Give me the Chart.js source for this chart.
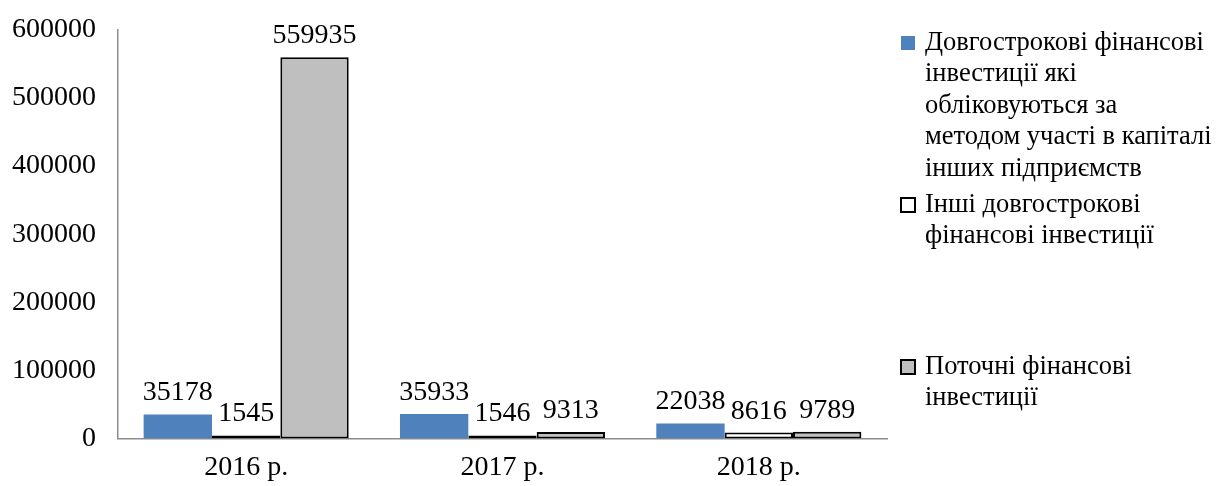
<!DOCTYPE html>
<html>
<head>
<meta charset="utf-8">
<script src="https://cdn.jsdelivr.net/npm/chart.js@4"></script>
<style>
  body { margin: 0; background: #fff; }
  #wrap { width: 1218px; height: 486px; }
</style>
</head>
<body>
<div id="wrap"><canvas id="barChart"></canvas></div>
<script>
// Financial investments by year
const years = ['2016 р.', '2017 р.', '2018 р.'];

const longTermEquity = [35178, 35933, 22038];
const otherLongTerm = [1545, 1546, 8616];
const currentInvest = [559935, 9313, 9789];

const seriesNames = [
    'Довгострокові фінансові інвестиції які обліковуються за методом участі в капіталі інших підприємств',
    'Інші довгострокові фінансові інвестиції',
    'Поточні фінансові інвестиції',
];

// wrapped legend text, as in the original
const legendLines = [
    ['Довгострокові фінансові', 'інвестиції які', 'обліковуються за', 'методом участі в капіталі', 'інших підприємств'],
    ['Інші довгострокові', 'фінансові інвестиції'],
    ['Поточні фінансові', 'інвестиції'],
];

const FONT = '"Liberation Serif", "Times New Roman", serif';

const valueLabels = {
    id: 'valueLabels',
    afterDatasetsDraw(chart) {
        const ctx = chart.ctx;
        ctx.save();
        ctx.font = '28px ' + FONT;
        ctx.fillStyle = '#000';
        ctx.textAlign = 'center';
        ctx.textBaseline = 'alphabetic';
        chart.data.datasets.forEach((ds, i) => {
            chart.getDatasetMeta(i).data.forEach((bar, j) => {
                ctx.fillText(String(ds.data[j]), bar.x, bar.y - 14);
            });
        });
        ctx.restore();
    }
};

const sideLegend = {
    id: 'sideLegend',
    afterDraw(chart) {
        const ctx = chart.ctx;
        const tops = [43, 205, 367];
        ctx.save();
        ctx.font = '26.5px ' + FONT;
        ctx.textBaseline = 'middle';
        ctx.textAlign = 'left';
        chart.data.datasets.forEach((ds, i) => {
            const y0 = tops[i];
            ctx.fillStyle = ds.backgroundColor;
            ctx.fillRect(901, y0 - 7, 14, 14);
            if (ds.borderWidth) {
                ctx.strokeStyle = '#000';
                ctx.lineWidth = 2;
                ctx.strokeRect(901, y0 - 7, 14, 14);
            }
            ctx.fillStyle = '#000';
            legendLines[i].forEach((line, k) => {
                ctx.fillText(line, 925, y0 + k * 31.5);
            });
        });
        ctx.restore();
    }
};

const data = {
    labels: years,
    datasets: [{
        label: seriesNames[0],
        backgroundColor: '#4F81BD',
        borderWidth: 0,
        data: longTermEquity,
    }, {
        label: seriesNames[1],
        backgroundColor: '#FFFFFF',
        borderColor: '#000000',
        borderWidth: 2,
        borderSkipped: false,
        minBarLength: 3,
        data: otherLongTerm,
    }, {
        label: seriesNames[2],
        backgroundColor: '#BFBFBF',
        borderColor: '#000000',
        borderWidth: 2,
        borderSkipped: false,
        minBarLength: 3,
        data: currentInvest,
    }]
};

const config = {
    type: 'bar',
    data: data,
    options: {
        responsive: true,
        maintainAspectRatio: false,
        animation: false,
        categoryPercentage: 0.8,
        barPercentage: 1.0,
        layout: { padding: { left: -10, right: 331, top: 0, bottom: -10 } },
        plugins: {
            legend: { display: false },
            tooltip: { enabled: false },
        },
        scales: {
            x: {
                grid: { display: false, drawTicks: false },
                border: { color: '#8C8C8C', width: 1.5 },
                ticks: { color: '#000', padding: 12, font: { family: FONT, size: 28 } },
            },
            y: {
                min: 0,
                max: 600000,
                grid: { display: false, drawTicks: false },
                border: { color: '#8C8C8C', width: 1.5 },
                ticks: {
                    stepSize: 100000, color: '#000', padding: 22,
                    font: { family: FONT, size: 28 },
                    callback: (v) => String(v),
                },
                afterFit(scale) { scale.paddingTop = 30; },
            }
        }
    },
    plugins: [valueLabels, sideLegend]
};

const myBarChart = new Chart(document.getElementById('barChart'), config);
</script>
</body>
</html>
